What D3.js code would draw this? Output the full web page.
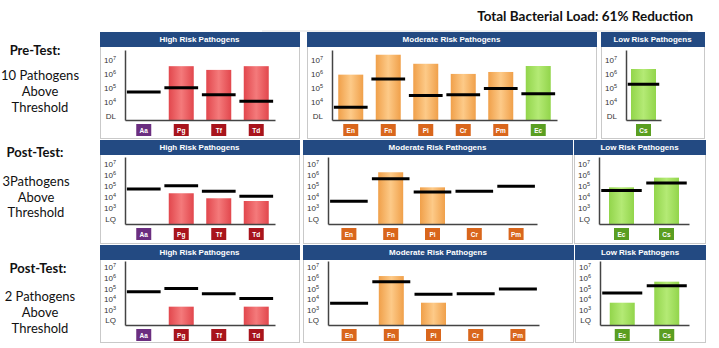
<!DOCTYPE html>
<html>
<head>
<meta charset="utf-8">
<script src="https://cdn.jsdelivr.net/npm/d3@7"></script>
<style>
  body { margin: 0; background: #fff; }
  svg { display: block; }
</style>
</head>
<body>
<svg id="chart" width="719" height="348"></svg>
<script>
// pathogen codes per panel
const highRisk = ["Aa", "Pg", "Tf", "Td"];
const moderateRiskPre = ["En", "Fn", "Pi", "Cr", "Pm", "Ec"];
const lowRiskPre = ["Cs"];
const moderateRiskPost = ["En", "Fn", "Pi", "Cr", "Pm"];
const lowRiskPost = ["Ec", "Cs"];

// threshold per pathogen (copies), same for every test
const pathogens = ["Aa", "Pg", "Tf", "Td", "En", "Fn", "Pi", "Cr", "Pm", "Ec", "Cs"];
const thresholds = [5e4, 1e5, 3.2e4, 1.1e4, 4e3, 4.3e5, 2.8e4, 3.2e4, 9e4, 3.8e4, 1.8e5];

// measured loads (copies), null = not detected
const preTestValues = [null, 3.5e6, 1.9e6, 3.5e6, 8.7e5, 2.3e7, 5.2e6, 9.8e5, 1.35e6, 3.6e6, 2.2e6];
const postTest1Values = [null, 2.1e4, 7.4e3, 4.2e3, null, 1.66e6, 7.2e4, null, null, 7.2e4, 5.4e5];
const postTest2Values = [null, 1.9e3, null, 1.9e3, null, 1.5e6, 4.5e3, null, null, 4.5e3, 4.4e5];

// y tick labels
const preTickValues = [1e7, 1e6, 1e5, 1e4, 1e3];
const preTickLabels = ["10^7", "10^6", "10^5", "10^4", "DL"];
const postTickValues = [1e7, 1e6, 1e5, 1e4, 1e3, 1e2];
const postTickLabels = ["10^7", "10^6", "10^5", "10^4", "10^3", "LQ"];

const svg = d3.select("#chart");
const defs = svg.append("defs");

const barColors = {
  red: ["#e2474d", "#f47a7b"],
  orange: ["#f0a04a", "#fdca88"],
  green: ["#92d54b", "#b4ea75"],
};
Object.entries(barColors).forEach(([k, [edge, mid]]) => {
  const lg = defs.append("linearGradient").attr("id", "grad-" + k)
    .attr("x1", 0).attr("x2", 1).attr("y1", 0).attr("y2", 0);
  lg.append("stop").attr("offset", "0%").attr("stop-color", edge);
  lg.append("stop").attr("offset", "50%").attr("stop-color", mid);
  lg.append("stop").attr("offset", "100%").attr("stop-color", edge);
});
const boxColors = { purple: "#6b2e80", red: "#a8141c", orange: "#d9661c", green: "#5a9e21" };

const colorKey = (name) => {
  if (name === "Aa") return "purple";
  if (highRisk.includes(name)) return "red";
  if (name === "Ec" || name === "Cs") return "green";
  return "orange";
};

const valueFor = (name, values) => values[pathogens.indexOf(name)];

const rows = [
  {
    values: preTestValues, title: "Pre-Test:", note: ["10 Pathogens", "Above", "Threshold"],
    titleX: 35, noteX: 40, titleY: 50, noteY: [75, 91, 107],
    top: 32, bottom: 138, axisTop: 50, axisBottom: 120,
    domain: [10 ** 2.7, 10 ** 7.7], tickValues: preTickValues, tickLabels: preTickLabels,
    panels: [
      { name: "High Risk Pathogens", cats: highRisk, x0: 100, x1: 299, end: 275 },
      { name: "Moderate Risk Pathogens", cats: moderateRiskPre, x0: 307, x1: 596, end: 557 },
      { name: "Low Risk Pathogens", cats: lowRiskPre, x0: 601, x1: 704, end: 661 },
    ],
  },
  {
    values: postTest1Values, title: "Post-Test:", note: ["3Pathogens", "Above", "Threshold"],
    titleX: 35, noteX: 36, titleY: 152, noteY: [181, 197, 212],
    top: 140, bottom: 243, axisTop: 157, axisBottom: 224,
    domain: [10 ** 1.544, 10 ** 7.6], tickValues: postTickValues, tickLabels: postTickLabels,
    panels: [
      { name: "High Risk Pathogens", cats: highRisk, x0: 100, x1: 299, end: 275 },
      { name: "Moderate Risk Pathogens", cats: moderateRiskPost, x0: 303, x1: 572, end: 537 },
      { name: "Low Risk Pathogens", cats: lowRiskPost, x0: 574, x1: 705, end: 689 },
    ],
  },
  {
    values: postTest2Values, title: "Post-Test:", note: ["2 Pathogens", "Above", "Threshold"],
    titleX: 38, noteX: 40, titleY: 268, noteY: [296, 312, 328],
    top: 245, bottom: 342, axisTop: 261, axisBottom: 325,
    domain: [10 ** 1.544, 10 ** 7.6], tickValues: postTickValues, tickLabels: postTickLabels,
    panels: [
      { name: "High Risk Pathogens", cats: highRisk, x0: 100, x1: 299, end: 275 },
      { name: "Moderate Risk Pathogens", cats: moderateRiskPost, x0: 303, x1: 573, end: 539 },
      { name: "Low Risk Pathogens", cats: lowRiskPost, x0: 575, x1: 705, end: 689 },
    ],
  },
];

// title + faint rule
svg.append("line").attr("x1", 262).attr("x2", 688).attr("y1", 31).attr("y2", 31)
  .attr("stroke", "#e2e2e2").attr("stroke-width", 1);
svg.append("text").attr("x", 693).attr("y", 21).attr("text-anchor", "end")
  .attr("font-family", "Lato, sans-serif").attr("font-weight", "bold").attr("font-size", 13.5)
  .attr("fill", "#111").text("Total Bacterial Load: 61% Reduction");

const drawPanel = (row, p) => {
  const g = svg.append("g");
  const headerH = 15;

  g.append("rect").attr("x", p.x0 + 0.5).attr("y", row.top + 0.5)
    .attr("width", p.x1 - p.x0).attr("height", row.bottom - row.top)
    .attr("fill", "#fff").attr("stroke", "#c9c9c9");
  g.append("rect").attr("x", p.x0).attr("y", row.top)
    .attr("width", p.x1 - p.x0 + 1).attr("height", headerH).attr("fill", "#234a82");
  g.append("text").attr("x", (p.x0 + p.x1) / 2).attr("y", row.top + headerH / 2)
    .attr("dominant-baseline", "central").attr("text-anchor", "middle")
    .attr("font-family", "Liberation Sans, Arial, sans-serif").attr("font-weight", "bold")
    .attr("font-size", 8).attr("fill", "#fff").text(p.name);

  const axisX = p.x0 + 25;
  const x = d3.scaleBand().domain(p.cats).range([axisX, p.end]);
  const y = d3.scaleLog().domain(row.domain).range([row.axisBottom, row.axisTop]);
  const barW = 25;
  const lineW = x.bandwidth() * 0.9;

  // bars
  const barData = p.cats.map((c) => ({ c, v: valueFor(c, row.values) })).filter((d) => d.v);
  g.selectAll(".bar").data(barData).enter().append("rect")
    .attr("x", (d) => x(d.c) + x.bandwidth() / 2 - barW / 2)
    .attr("y", (d) => y(d.v))
    .attr("width", barW)
    .attr("height", (d) => row.axisBottom - y(d.v))
    .attr("fill", (d) => `url(#grad-${colorKey(d.c)})`);

  // y axis
  const yAxis = g.append("g").attr("transform", `translate(${axisX},0)`)
    .call(d3.axisLeft(y).tickValues(row.tickValues).tickSize(0).tickPadding(9));
  yAxis.select(".domain").attr("stroke", "#444").attr("stroke-width", 1.5);
  yAxis.selectAll(".tick text").each(function (d, i) {
    const lab = row.tickLabels[i];
    const t = d3.select(this).text(null)
      .attr("font-family", "Liberation Sans, Arial, sans-serif").attr("font-size", 8).attr("fill", "#333");
    if (lab.includes("^")) {
      const [b, e] = lab.split("^");
      t.append("tspan").text(b);
      t.append("tspan").attr("dy", -3).attr("font-size", 5.5).text(e);
    } else {
      t.text(lab);
    }
  });

  // x axis
  const xAxis = g.append("g").attr("transform", `translate(0,${row.axisBottom})`)
    .call(d3.axisBottom(x).tickSize(0).tickFormat(""));
  xAxis.select(".domain").attr("stroke", "#444").attr("stroke-width", 1.5);

  // threshold lines
  g.selectAll(".thr").data(p.cats).enter().append("line")
    .attr("x1", (c) => x(c) + x.bandwidth() / 2 - lineW / 2)
    .attr("x2", (c) => x(c) + x.bandwidth() / 2 + lineW / 2)
    .attr("y1", (c) => y(thresholds[pathogens.indexOf(c)]))
    .attr("y2", (c) => y(thresholds[pathogens.indexOf(c)]))
    .attr("stroke", "#000").attr("stroke-width", 3);

  // name boxes
  const boxes = g.selectAll(".lab").data(p.cats).enter().append("g")
    .attr("transform", (c) => `translate(${x(c) + x.bandwidth() / 2},${row.axisBottom + 4})`);
  boxes.append("rect").attr("x", -7.5).attr("y", 0).attr("width", 15).attr("height", 12)
    .attr("fill", (c) => boxColors[colorKey(c)]);
  boxes.append("text").attr("y", 6).attr("dominant-baseline", "central").attr("text-anchor", "middle")
    .attr("font-family", "Liberation Sans, Arial, sans-serif").attr("font-weight", "bold")
    .attr("font-size", 6.5).attr("fill", "#fff").text((c) => c);
};

rows.forEach((row) => {
  svg.append("text").attr("x", row.titleX).attr("y", row.titleY)
    .attr("text-anchor", "middle").attr("dominant-baseline", "central")
    .attr("font-family", "Lato, sans-serif").attr("font-weight", "bold").attr("font-size", 13)
    .attr("fill", "#111").text(row.title);
  row.note.forEach((line, i) => {
    svg.append("text").attr("x", row.noteX).attr("y", row.noteY[i])
      .attr("text-anchor", "middle").attr("dominant-baseline", "central")
      .attr("font-family", "Lato, sans-serif").attr("font-size", 13)
      .attr("fill", "#111").text(line);
  });
  row.panels.forEach((p) => drawPanel(row, p));
});
</script>
</body>
</html>
